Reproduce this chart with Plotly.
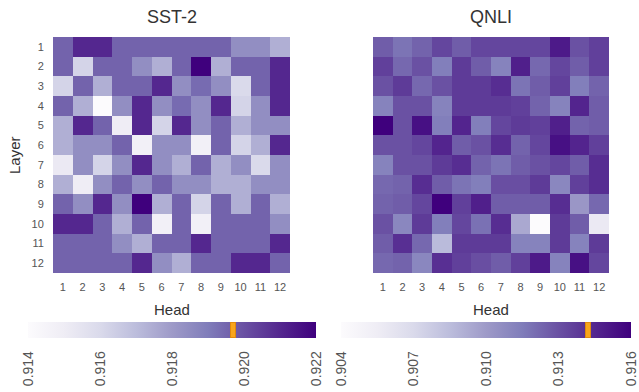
import plotly.graph_objects as go

# ---------------- data ----------------
heads = [1, 2, 3, 4, 5, 6, 7, 8, 9, 10, 11, 12]
layers = [1, 2, 3, 4, 5, 6, 7, 8, 9, 10, 11, 12]
head_labels = [str(h) for h in heads]
layer_labels = [str(l) for l in layers]

sst2 = [
    [0.9196, 0.9210, 0.9210, 0.9196, 0.9196, 0.9196, 0.9196, 0.9196, 0.9196, 0.9184, 0.9184, 0.9174],
    [0.9196, 0.9162, 0.9196, 0.9196, 0.9184, 0.9174, 0.9196, 0.9220, 0.9174, 0.9196, 0.9196, 0.9210],
    [0.9162, 0.9196, 0.9174, 0.9196, 0.9196, 0.9210, 0.9184, 0.9194, 0.9184, 0.9160, 0.9196, 0.9210],
    [0.9196, 0.9174, 0.9140, 0.9184, 0.9210, 0.9184, 0.9194, 0.9184, 0.9210, 0.9162, 0.9184, 0.9210],
    [0.9174, 0.9210, 0.9196, 0.9150, 0.9210, 0.9162, 0.9210, 0.9184, 0.9196, 0.9174, 0.9184, 0.9184],
    [0.9174, 0.9184, 0.9184, 0.9196, 0.9148, 0.9184, 0.9184, 0.9148, 0.9196, 0.9162, 0.9174, 0.9210],
    [0.9152, 0.9184, 0.9162, 0.9184, 0.9210, 0.9184, 0.9174, 0.9196, 0.9174, 0.9184, 0.9160, 0.9184],
    [0.9174, 0.9150, 0.9184, 0.9196, 0.9184, 0.9196, 0.9184, 0.9184, 0.9174, 0.9174, 0.9184, 0.9184],
    [0.9196, 0.9184, 0.9210, 0.9184, 0.9220, 0.9174, 0.9196, 0.9162, 0.9196, 0.9174, 0.9196, 0.9174],
    [0.9210, 0.9210, 0.9196, 0.9174, 0.9196, 0.9148, 0.9196, 0.9148, 0.9196, 0.9196, 0.9196, 0.9184],
    [0.9196, 0.9196, 0.9196, 0.9184, 0.9174, 0.9196, 0.9196, 0.9210, 0.9196, 0.9196, 0.9196, 0.9210],
    [0.9196, 0.9196, 0.9196, 0.9196, 0.9210, 0.9184, 0.9174, 0.9196, 0.9196, 0.9210, 0.9210, 0.9196],
]

qnli = [
    [0.9126, 0.9118, 0.9124, 0.9134, 0.9126, 0.9134, 0.9134, 0.9134, 0.9134, 0.9150, 0.9130, 0.9136],
    [0.9136, 0.9122, 0.9130, 0.9114, 0.9138, 0.9126, 0.9112, 0.9148, 0.9122, 0.9134, 0.9126, 0.9136],
    [0.9130, 0.9138, 0.9122, 0.9130, 0.9138, 0.9138, 0.9143, 0.9118, 0.9126, 0.9136, 0.9114, 0.9124],
    [0.9112, 0.9130, 0.9130, 0.9112, 0.9138, 0.9138, 0.9138, 0.9136, 0.9124, 0.9112, 0.9146, 0.9126],
    [0.9160, 0.9130, 0.9154, 0.9114, 0.9146, 0.9114, 0.9134, 0.9138, 0.9136, 0.9148, 0.9124, 0.9126],
    [0.9130, 0.9130, 0.9134, 0.9146, 0.9126, 0.9130, 0.9143, 0.9124, 0.9134, 0.9154, 0.9146, 0.9136],
    [0.9112, 0.9130, 0.9130, 0.9138, 0.9143, 0.9124, 0.9118, 0.9126, 0.9130, 0.9134, 0.9126, 0.9143],
    [0.9122, 0.9124, 0.9143, 0.9126, 0.9118, 0.9114, 0.9131, 0.9131, 0.9138, 0.9110, 0.9136, 0.9143],
    [0.9124, 0.9126, 0.9134, 0.9160, 0.9136, 0.9148, 0.9126, 0.9126, 0.9126, 0.9143, 0.9102, 0.9122],
    [0.9130, 0.9110, 0.9138, 0.9114, 0.9134, 0.9119, 0.9143, 0.9094, 0.9040, 0.9138, 0.9126, 0.9058],
    [0.9126, 0.9142, 0.9122, 0.9086, 0.9138, 0.9138, 0.9138, 0.9112, 0.9112, 0.9138, 0.9112, 0.9138],
    [0.9122, 0.9124, 0.9110, 0.9142, 0.9136, 0.9131, 0.9126, 0.9136, 0.9150, 0.9112, 0.9154, 0.9134],
]

sst2_range = [0.914, 0.922]
qnli_range = [0.904, 0.916]
sst2_ticks = [0.914, 0.916, 0.918, 0.920, 0.922]
qnli_ticks = [0.904, 0.907, 0.910, 0.913, 0.916]
sst2_baseline = 0.9197
qnli_baseline = 0.9142

# ---------------- layout helpers ----------------
W, H = 639, 392
def px(x):
    return x / W
def py(y):
    return 1 - y / H

FONT = "Liberation Sans, Arial, sans-serif"
TICK_COL = "#555555"
TXT_COL = "#333333"

panel_x = [(53, 290), (373, 609)]
panel_y = (37, 273)
cbar_x = [(28, 316), (341, 631)]
cbar_y = (322, 338)

fig = go.Figure()

datasets = [(sst2, sst2_range, sst2_ticks, sst2_baseline, "SST-2"),
            (qnli, qnli_range, qnli_ticks, qnli_baseline, "QNLI")]

for i, (z, zr, ticks, base, name) in enumerate(datasets):
    xa = "x" if i == 0 else "x2"
    ya = "y" if i == 0 else "y2"
    cx0, cx1 = cbar_x[i]
    fig.add_trace(go.Heatmap(
        z=z, x=heads, y=layers, xaxis=xa, yaxis=ya,
        colorscale="Purples", zmin=zr[0], zmax=zr[1],
        hoverinfo="skip",
        colorbar=dict(
            orientation="h",
            x=px((cx0 + cx1) / 2), xanchor="center",
            y=py(cbar_y[0]), yanchor="top",
            len=(cx1 - cx0) / W, lenmode="fraction",
            thickness=cbar_y[1] - cbar_y[0], thicknessmode="pixels",
            xpad=0, ypad=0, outlinewidth=0,
            tickmode="array", tickvals=ticks,
            ticktext=[f"{t:.3f}" for t in ticks],
            tickangle=-90, ticks="outside", ticklen=8,
            tickcolor="rgba(0,0,0,0)",
            ticklabeloverflow="allow",
            tickfont=dict(family=FONT, size=14, color=TICK_COL),
        ),
    ))

# axes for heatmaps
for i in range(2):
    x0, x1 = panel_x[i]
    xkey = "xaxis" if i == 0 else "xaxis2"
    ykey = "yaxis" if i == 0 else "yaxis2"
    fig.layout[xkey] = dict(
        domain=[px(x0), px(x1)], range=[0.5, 12.5],
        tickmode="array", tickvals=heads, ticktext=head_labels,
        ticks="outside", ticklen=4, tickcolor="rgba(0,0,0,0)",
        tickfont=dict(family=FONT, size=11, color=TICK_COL),
        showgrid=False, zeroline=False, showline=False,
        automargin=False, fixedrange=True,
        anchor="y" if i == 0 else "y2",
    )
    fig.layout[ykey] = dict(
        domain=[py(panel_y[1]), py(panel_y[0])], range=[12.5, 0.5],
        tickmode="array", tickvals=layers, ticktext=layer_labels,
        showticklabels=(i == 0),
        ticks="outside", ticklen=6, tickcolor="rgba(0,0,0,0)",
        tickfont=dict(family=FONT, size=11, color=TICK_COL),
        showgrid=False, zeroline=False, showline=False,
        automargin=False, fixedrange=True,
        anchor="x" if i == 0 else "x2",
    )

annotations = []

# hidden axes aligned with the colorbars, for the baseline markers
for i, (z, zr, ticks, base, name) in enumerate(datasets):
    cx0, cx1 = cbar_x[i]
    n = 3 + i
    fig.layout[f"xaxis{n}"] = dict(
        domain=[px(cx0), px(cx1)], range=zr, visible=False,
        fixedrange=True, anchor=f"y{n}",
    )
    fig.layout[f"yaxis{n}"] = dict(
        domain=[py(cbar_y[1]), py(cbar_y[0])], range=[0, 1], visible=False,
        fixedrange=True, anchor=f"x{n}",
    )
    annotations.append(dict(
        text=" ", x=base, xref=f"x{n}", y=0.5, yref=f"y{n}",
        xanchor="center", yanchor="middle", showarrow=False,
        width=4, height=14, borderpad=0, borderwidth=1,
        bgcolor="#f9a51c", bordercolor="#e0890f",
        font=dict(size=1),
    ))

for i, (z, zr, ticks, base, name) in enumerate(datasets):
    x0, x1 = panel_x[i]
    annotations.append(dict(text=name, x=px((x0 + x1) / 2), y=py(17),
                            xref="paper", yref="paper", showarrow=False,
                            xanchor="center", yanchor="middle",
                            font=dict(family=FONT, size=18, color=TXT_COL)))
    annotations.append(dict(text="Head", x=px((x0 + x1) / 2), y=py(309),
                            xref="paper", yref="paper", showarrow=False,
                            xanchor="center", yanchor="middle",
                            font=dict(family=FONT, size=15, color=TXT_COL)))
annotations.append(dict(text="Layer", x=px(14), y=py((panel_y[0] + panel_y[1]) / 2),
                        xref="paper", yref="paper", showarrow=False, textangle=-90,
                        xanchor="center", yanchor="middle",
                        font=dict(family=FONT, size=15, color=TXT_COL)))

fig.update_layout(
    width=W, height=H,
    margin=dict(l=0, r=0, t=0, b=0),
    paper_bgcolor="white", plot_bgcolor="white",
    annotations=annotations,
    showlegend=False,
)

fig.write_html("out.html", config={"displayModeBar": False},
               post_script="document.body.style.margin='0px';document.body.style.overflow='hidden';")
